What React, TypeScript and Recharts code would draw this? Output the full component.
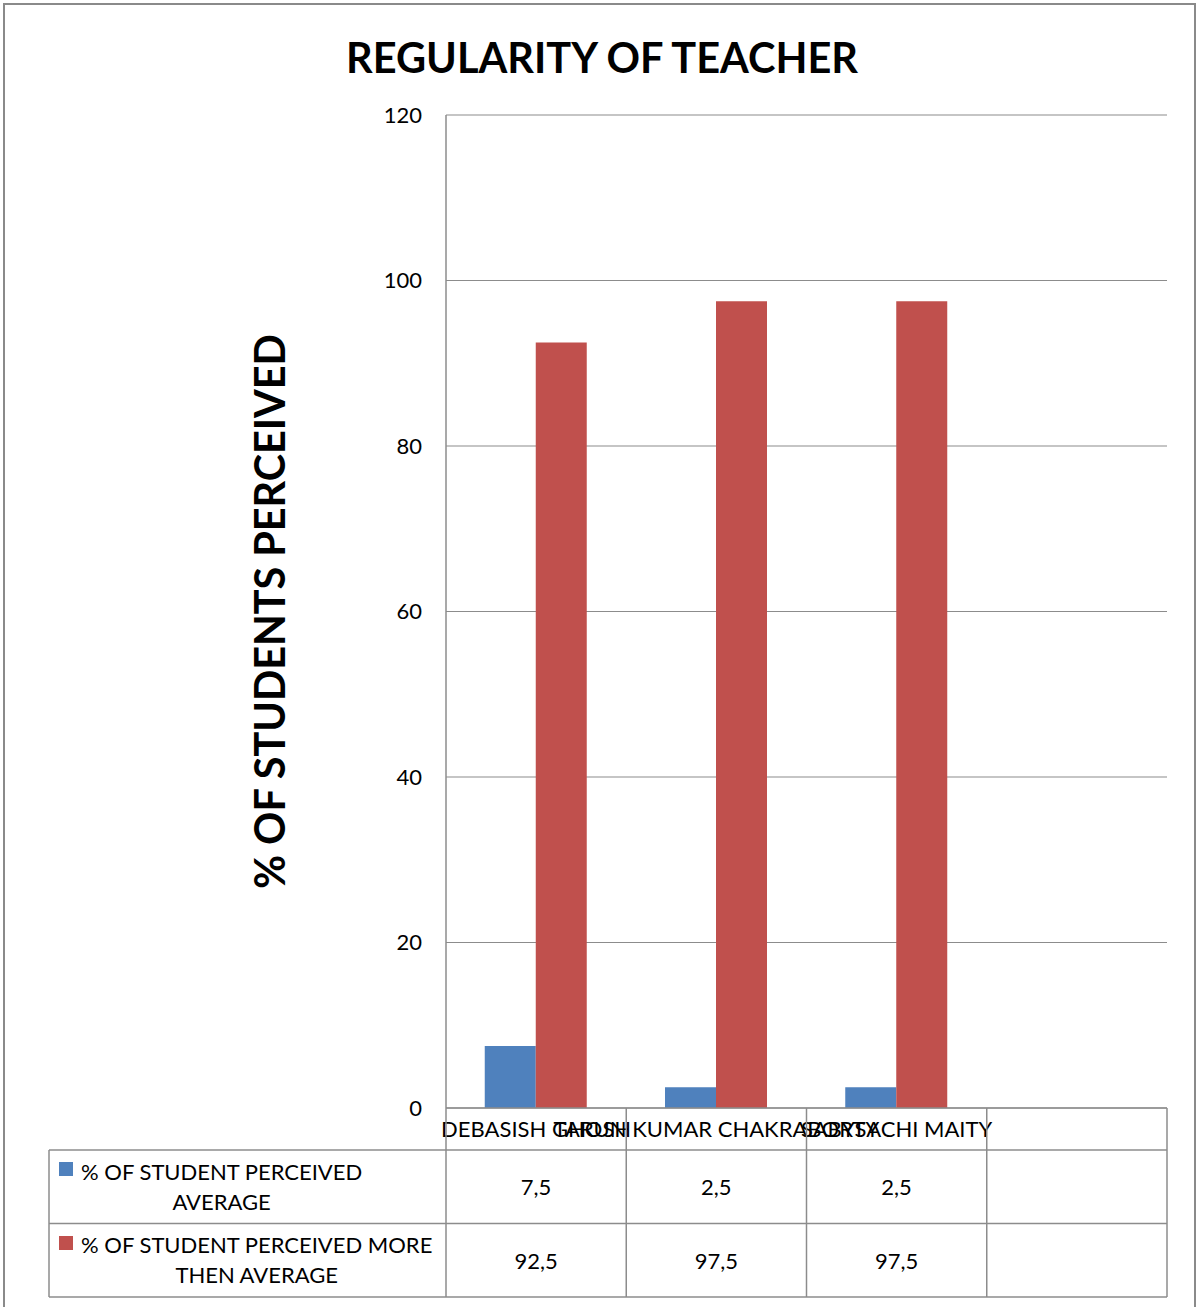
import React from "react";
import { BarChart, Bar, XAxis, YAxis, CartesianGrid } from "recharts";

const categories = ["DEBASISH GHOSH", "TARUN KUMAR CHAKRABORTY", "SABYSACHI MAITY", ""];
const averageValues = [7.5, 2.5, 2.5, null];
const moreThanAverageValues = [92.5, 97.5, 97.5, null];
const seriesNames = ["% OF STUDENT PERCEIVED AVERAGE", "% OF STUDENT PERCEIVED MORE THEN AVERAGE"];
const seriesColors = ["#4F81BD", "#C0504D"];
const yTicks = [0, 20, 40, 60, 80, 100, 120];

const data = categories.map((name, i) => ({
  name,
  average: averageValues[i],
  more: moreThanAverageValues[i],
}));
const seriesValues = [averageValues, moreThanAverageValues];

const FONT = "Lato, 'Noto Sans', sans-serif";
const GRID = "#8c8c8c";

// layout
const W = 1198;
const H = 1307;
const PLOT_LEFT = 446;
const PLOT_RIGHT = 1167;
const PLOT_TOP = 115;
const PLOT_BOTTOM = 1108;
const AXIS_ROW = 42;
const ROW_H = 73.5;
const TABLE_LEFT = 49;
const LEGEND_TEXT_W = 362;

const fmt = (v: number | null) => (v == null ? "" : String(v).replace(".", ","));

// wrap a legend name into lines no wider than maxW (like the excel table does)
const wrapText = (text: string, maxW: number): string[] => {
  const ctx = document.createElement("canvas").getContext("2d");
  if (!ctx) return [text];
  ctx.font = `22px ${FONT}`;
  const words = text.split(" ");
  const out: string[] = [];
  let cur = "";
  for (const w of words) {
    const test = cur ? cur + " " + w : w;
    if (cur && ctx.measureText(test).width > maxW) {
      out.push(cur);
      cur = w;
    } else {
      cur = test;
    }
  }
  if (cur) out.push(cur);
  return out;
};

const DataTable: React.FC = () => {
  const colW = (PLOT_RIGHT - PLOT_LEFT) / categories.length;
  const rowsTop = PLOT_BOTTOM + AXIS_ROW;
  const tableBottom = rowsTop + ROW_H * seriesNames.length;
  const lines: React.ReactNode[] = [];
  for (let r = 0; r <= seriesNames.length; r++) {
    const y = rowsTop + r * ROW_H;
    lines.push(<line key={"h" + r} x1={TABLE_LEFT} x2={PLOT_RIGHT} y1={y} y2={y} />);
  }
  lines.push(<line key="vl" x1={TABLE_LEFT} x2={TABLE_LEFT} y1={rowsTop} y2={tableBottom} />);
  for (let c = 0; c <= categories.length; c++) {
    const x = PLOT_LEFT + c * colW;
    lines.push(<line key={"v" + c} x1={x} x2={x} y1={PLOT_BOTTOM} y2={tableBottom} />);
  }
  return (
    <div style={{ position: "absolute", left: 0, top: 0, width: W, height: H, pointerEvents: "none" }}>
      <svg width={W} height={H} style={{ position: "absolute", left: 0, top: 0 }}>
        <g stroke={GRID} strokeWidth={1.5}>{lines}</g>
      </svg>
      {seriesNames.map((name, r) => {
        const top = rowsTop + r * ROW_H;
        const nameLines = wrapText(name, LEGEND_TEXT_W);
        return (
          <React.Fragment key={name}>
            <div
              style={{
                position: "absolute",
                left: 59,
                top: top + 12,
                width: 14,
                height: 14,
                background: seriesColors[r],
              }}
            />
            <div
              style={{
                position: "absolute",
                left: 81,
                top,
                height: ROW_H,
                display: "flex",
                alignItems: "center",
              }}
            >
              <div
                style={{
                  whiteSpace: "nowrap",
                  textAlign: "center",
                  fontFamily: FONT,
                  fontSize: 22,
                  lineHeight: "30px",
                  color: "#000",
                }}
              >
                {nameLines.map((ln, i) => (
                  <div key={i}>{ln}</div>
                ))}
              </div>
            </div>
            {seriesValues[r].map((v, c) => (
              <div
                key={c}
                style={{
                  position: "absolute",
                  left: PLOT_LEFT + c * colW,
                  top,
                  width: colW,
                  height: ROW_H,
                  display: "flex",
                  alignItems: "center",
                  justifyContent: "center",
                  fontFamily: FONT,
                  fontSize: 22,
                  color: "#000",
                }}
              >
                {fmt(v)}
              </div>
            ))}
          </React.Fragment>
        );
      })}
    </div>
  );
};

const App: React.FC = () => {
  return (
    <div style={{ position: "absolute", left: 0, top: 0, width: W, height: H, background: "#fff" }}>
      <div
        style={{
          position: "absolute",
          left: 3,
          top: 3,
          width: 1193,
          height: H - 3,
          border: "2px solid #8a8a8a",
          borderBottom: "none",
          boxSizing: "border-box",
        }}
      />
      <div
        style={{
          position: "absolute",
          left: 5,
          top: 32,
          width: 1194,
          textAlign: "center",
          fontFamily: FONT,
          fontWeight: 700,
          fontSize: 41.5,
          lineHeight: "50px",
          color: "#000",
        }}
      >
        REGULARITY OF TEACHER
      </div>
      <div style={{ position: "absolute", left: 0, top: 0 }}>
        <BarChart
          width={W}
          height={H}
          data={data}
          margin={{ top: PLOT_TOP, right: W - PLOT_RIGHT, left: 94, bottom: H - PLOT_BOTTOM - AXIS_ROW }}
          barCategoryGap="21.5%"
          barGap={0}
        >
          <CartesianGrid vertical={false} stroke={GRID} strokeWidth={1.2} />
          <XAxis
            dataKey="name"
            height={AXIS_ROW}
            interval={0}
            tickLine={false}
            tickSize={0}
            tickMargin={13}
            axisLine={{ stroke: GRID, strokeWidth: 1.5 }}
            tick={{ fill: "#000", fontSize: 22, fontFamily: FONT }}
          />
          <YAxis
            width={352}
            domain={[0, 120]}
            ticks={yTicks}
            tickLine={false}
            tickSize={0}
            tickMargin={24}
            axisLine={{ stroke: GRID, strokeWidth: 1.5 }}
            tick={{ fill: "#000", fontSize: 22, fontFamily: FONT }}
            label={{
              value: "% OF STUDENTS PERCEIVED",
              angle: -90,
              position: "center",
              style: { fill: "#000", fontSize: 41.3, fontWeight: 700, fontFamily: FONT },
            }}
          />
          <Bar dataKey="average" name={seriesNames[0]} fill={seriesColors[0]} isAnimationActive={false} />
          <Bar dataKey="more" name={seriesNames[1]} fill={seriesColors[1]} isAnimationActive={false} />
        </BarChart>
      </div>
      <DataTable />
    </div>
  );
};

export default App;
